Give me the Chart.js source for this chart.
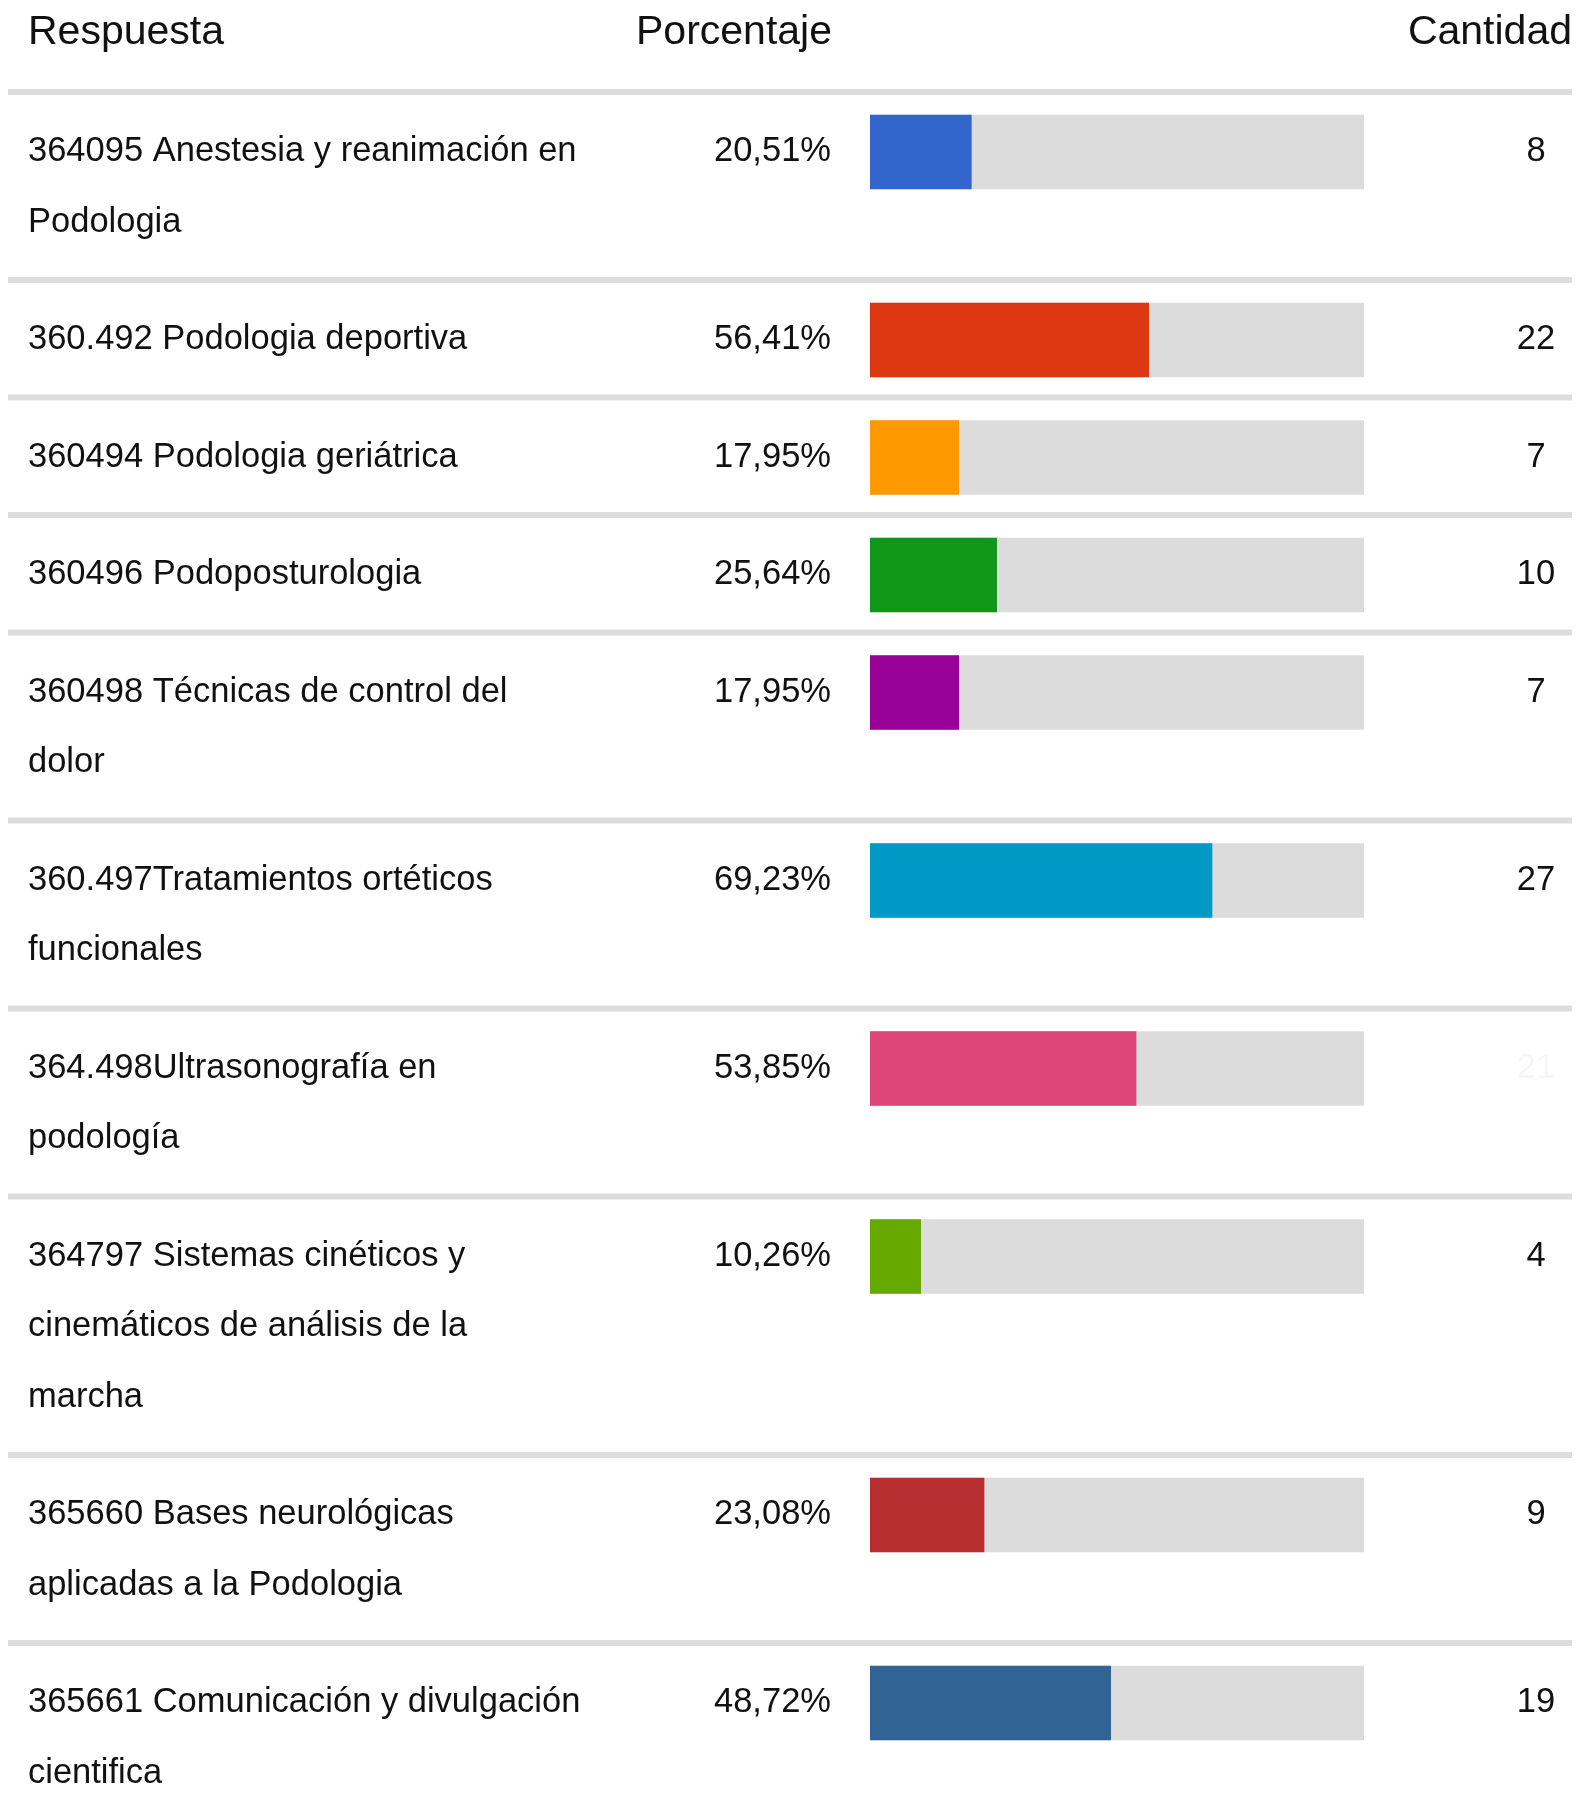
<!DOCTYPE html>
<html>
<head>
<meta charset="utf-8">
<script src="https://cdn.jsdelivr.net/npm/chart.js@4/dist/chart.umd.min.js"></script>
<style>
html,body{margin:0;padding:0;background:#ffffff;overflow:hidden}
canvas{display:block}
</style>
</head>
<body>
<canvas id="c" width="1583" height="1799"></canvas>
<script>
// ---- data ----
const categories = [
  ["364095 Anestesia y reanimación en", "Podologia"],
  ["360.492 Podologia deportiva"],
  ["360494 Podologia geriátrica"],
  ["360496 Podoposturologia"],
  ["360498 Técnicas de control del", "dolor"],
  ["360.497Tratamientos ortéticos", "funcionales"],
  ["364.498Ultrasonografía en", "podología"],
  ["364797 Sistemas cinéticos y", "cinemáticos de análisis de la", "marcha"],
  ["365660 Bases neurológicas", "aplicadas a la Podologia"],
  ["365661 Comunicación y divulgación", "cientifica"]
];
const percentages = [20.51, 56.41, 17.95, 25.64, 17.95, 69.23, 53.85, 10.26, 23.08, 48.72];
const counts = [8, 22, 7, 10, 7, 27, 21, 4, 9, 19];
const countVisible = [true, true, true, true, true, true, false, true, true, true];
const headers = ["Respuesta", "Porcentaje", "Cantidad"];
const scaleMax = 100;

// ---- styles ----
const palette = ["#3366cc", "#dc3912", "#ff9900", "#109618", "#990099",
                 "#0099c6", "#dd4477", "#66aa00", "#b82e2e", "#316395"];
const trackColor = "#dcdcdc";
const sepColor = "#dddddd";
const FONT = '"Liberation Sans", Helvetica, Arial, sans-serif';

// ---- layout (derived from number of text lines per row) ----
const W = 1583, H = 1799;
const SEP0 = 92, LINE = 70.5, ROWBASE = 47, BAR_OFFSET = 60, BAR_H = 74;
const rowTop = [], rowCenter = [];
(function () {
  let y = SEP0;
  categories.forEach(lines => {
    rowTop.push(y);
    rowCenter.push(y + BAR_OFFSET);
    y += ROWBASE + LINE * lines.length;
  });
})();

const fmtPct = v => v.toFixed(2).replace('.', ',') + '%';

const tablePlugin = {
  id: 'table',
  beforeDatasetsDraw(chart) {
    const ctx = chart.ctx, ys = chart.scales.y;
    ctx.save();
    ctx.strokeStyle = sepColor;
    ctx.lineWidth = 6;
    rowTop.forEach(t => {
      const py = ys.getPixelForValue(t);
      ctx.beginPath();
      ctx.moveTo(8, py);
      ctx.lineTo(1572, py);
      ctx.stroke();
    });
    ctx.restore();
  },
  afterDatasetsDraw(chart) {
    const ctx = chart.ctx, ys = chart.scales.y;
    ctx.save();
    ctx.fillStyle = '#111111';
    ctx.textBaseline = 'alphabetic';
    // headers
    ctx.font = '41px ' + FONT;
    ctx.textAlign = 'left';
    ctx.fillText(headers[0], 28, 44);
    ctx.textAlign = 'right';
    ctx.fillText(headers[1], 832, 44);
    ctx.fillText(headers[2], 1572, 44);
    // rows
    ctx.font = '34.5px ' + FONT;
    categories.forEach((lines, i) => {
      const base = ys.getPixelForValue(rowCenter[i]) + 9;
      ctx.fillStyle = '#111111';
      ctx.textAlign = 'left';
      lines.forEach((ln, k) => ctx.fillText(ln, 28, base + k * LINE));
      ctx.textAlign = 'right';
      ctx.fillText(fmtPct(percentages[i]), 831, base);
      ctx.textAlign = 'center';
      ctx.fillStyle = countVisible[i] ? '#111111' : '#f6f6f6';
      ctx.fillText(String(counts[i]), 1536, base);
    });
    ctx.restore();
  }
};

new Chart(document.getElementById('c'), {
  type: 'bar',
  data: {
    datasets: [
      {
        label: 'Porcentaje',
        data: percentages.map((v, i) => ({ x: v, y: rowCenter[i] })),
        backgroundColor: palette,
        borderWidth: 0,
        barThickness: BAR_H,
        grouped: false
      },
      {
        label: 'Total',
        data: percentages.map((v, i) => ({ x: scaleMax, y: rowCenter[i] })),
        backgroundColor: trackColor,
        borderWidth: 0,
        barThickness: BAR_H,
        grouped: false
      }
    ]
  },
  options: {
    indexAxis: 'y',
    responsive: false,
    animation: false,
    devicePixelRatio: 1,
    layout: { padding: { left: 870, right: W - 1364, top: 0, bottom: 0 } },
    scales: {
      x: { type: 'linear', min: 0, max: scaleMax, display: false, offset: false },
      y: { type: 'linear', min: 0, max: H, reverse: true, display: false, offset: false, grid: { offset: false } }
    },
    plugins: { legend: { display: false }, tooltip: { enabled: false } }
  },
  plugins: [tablePlugin]
});
</script>
</body>
</html>
